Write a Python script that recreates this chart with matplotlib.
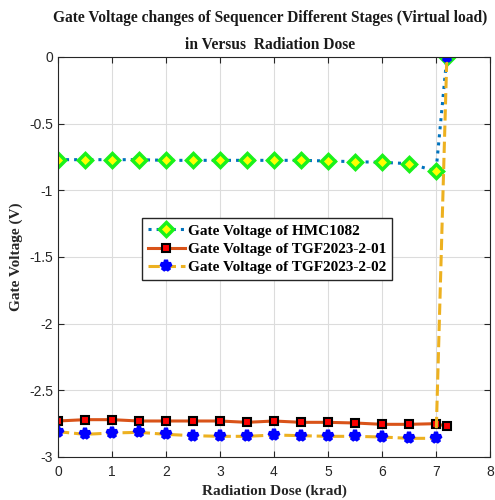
import matplotlib
matplotlib.use("Agg")
import matplotlib.pyplot as plt

dose = [0, 0.5, 1, 1.5, 2, 2.5, 3, 3.5, 4, 4.5, 5, 5.5, 6, 6.5, 7, 7.2]
hmc1082 = [-0.77, -0.77, -0.77, -0.77, -0.775, -0.775, -0.775, -0.775, -0.775,
           -0.775, -0.78, -0.785, -0.79, -0.8, -0.855, 0.0]
tgf_01 = [-2.73, -2.72, -2.72, -2.73, -2.73, -2.73, -2.73, -2.74, -2.73,
          -2.74, -2.74, -2.745, -2.755, -2.755, -2.75, -2.77]
tgf_02 = [-2.81, -2.83, -2.82, -2.815, -2.83, -2.84, -2.845, -2.845, -2.835,
          -2.84, -2.845, -2.845, -2.85, -2.86, -2.86, 0.0]

serif = "Liberation Serif"
plt.rcParams['font.family'] = ['Liberation Sans', 'DejaVu Sans']

fig = plt.figure(figsize=(4.95, 5.0), dpi=100)
ax = fig.add_axes([0.117, 0.086, 0.873, 0.8])

ax.plot(dose, hmc1082, ':', color=(0, 0.447, 0.741), lw=2.2, marker='D', ms=7,
        mfc='yellow', mec=(0.1, 0.95, 0.1), mew=2.5, label='Gate Voltage of HMC1082')
ax.plot(dose, tgf_01, '-', color=(0.85, 0.325, 0.098), lw=2.2, marker='s', ms=6,
        mfc='red', mec='black', mew=1.5, label='Gate Voltage of TGF2023-2-01')
ax.plot(dose, tgf_02, '--', color=(0.929, 0.694, 0.125), lw=2.2, marker='*', ms=8,
        mfc='blue', mec='blue', mew=3, label='Gate Voltage of TGF2023-2-02')

ax.set_xlim(0, 8)
ax.set_ylim(-3, 0)
ax.set_xticks(range(0, 9))
ax.set_yticks([-3, -2.5, -2, -1.5, -1, -0.5, 0])
ax.set_yticklabels(['-3', '-2.5', '-2', '-1.5', '-1', '-0.5', '0'])
ax.tick_params(direction='in', labelsize=10, colors='#262626', length=4, top=True, right=True)
ax.tick_params(axis='x', pad=6)
ax.grid(True, color='#dcdcdc', lw=0.8)
for s in ax.spines.values():
    s.set_color('#262626')

ax.set_xlabel('Radiation Dose (krad)', family=serif, fontweight='bold', fontsize=11, color='#262626')
ax.set_ylabel('Gate Voltage (V)', family=serif, fontweight='bold', fontsize=11, color='#262626')
ax.set_title('Gate Voltage changes of Sequencer Different Stages (Virtual load)\nin Versus  Radiation Dose',
             family=serif, fontweight='bold', fontsize=11.2, color='#1a1a1a', pad=6, linespacing=1.85,
             x=0.491)

leg = ax.legend(loc='upper left', bbox_to_anchor=(0.194, 0.598), prop={'family': serif, 'weight': 'bold', 'size': 11},
                fancybox=False, edgecolor='#262626', framealpha=1, borderpad=0.4, labelspacing=0.3,
                handlelength=2.4, handletextpad=0.2, borderaxespad=0)
leg.get_frame().set_linewidth(1.0)

fig.savefig('out.png', dpi=100)
